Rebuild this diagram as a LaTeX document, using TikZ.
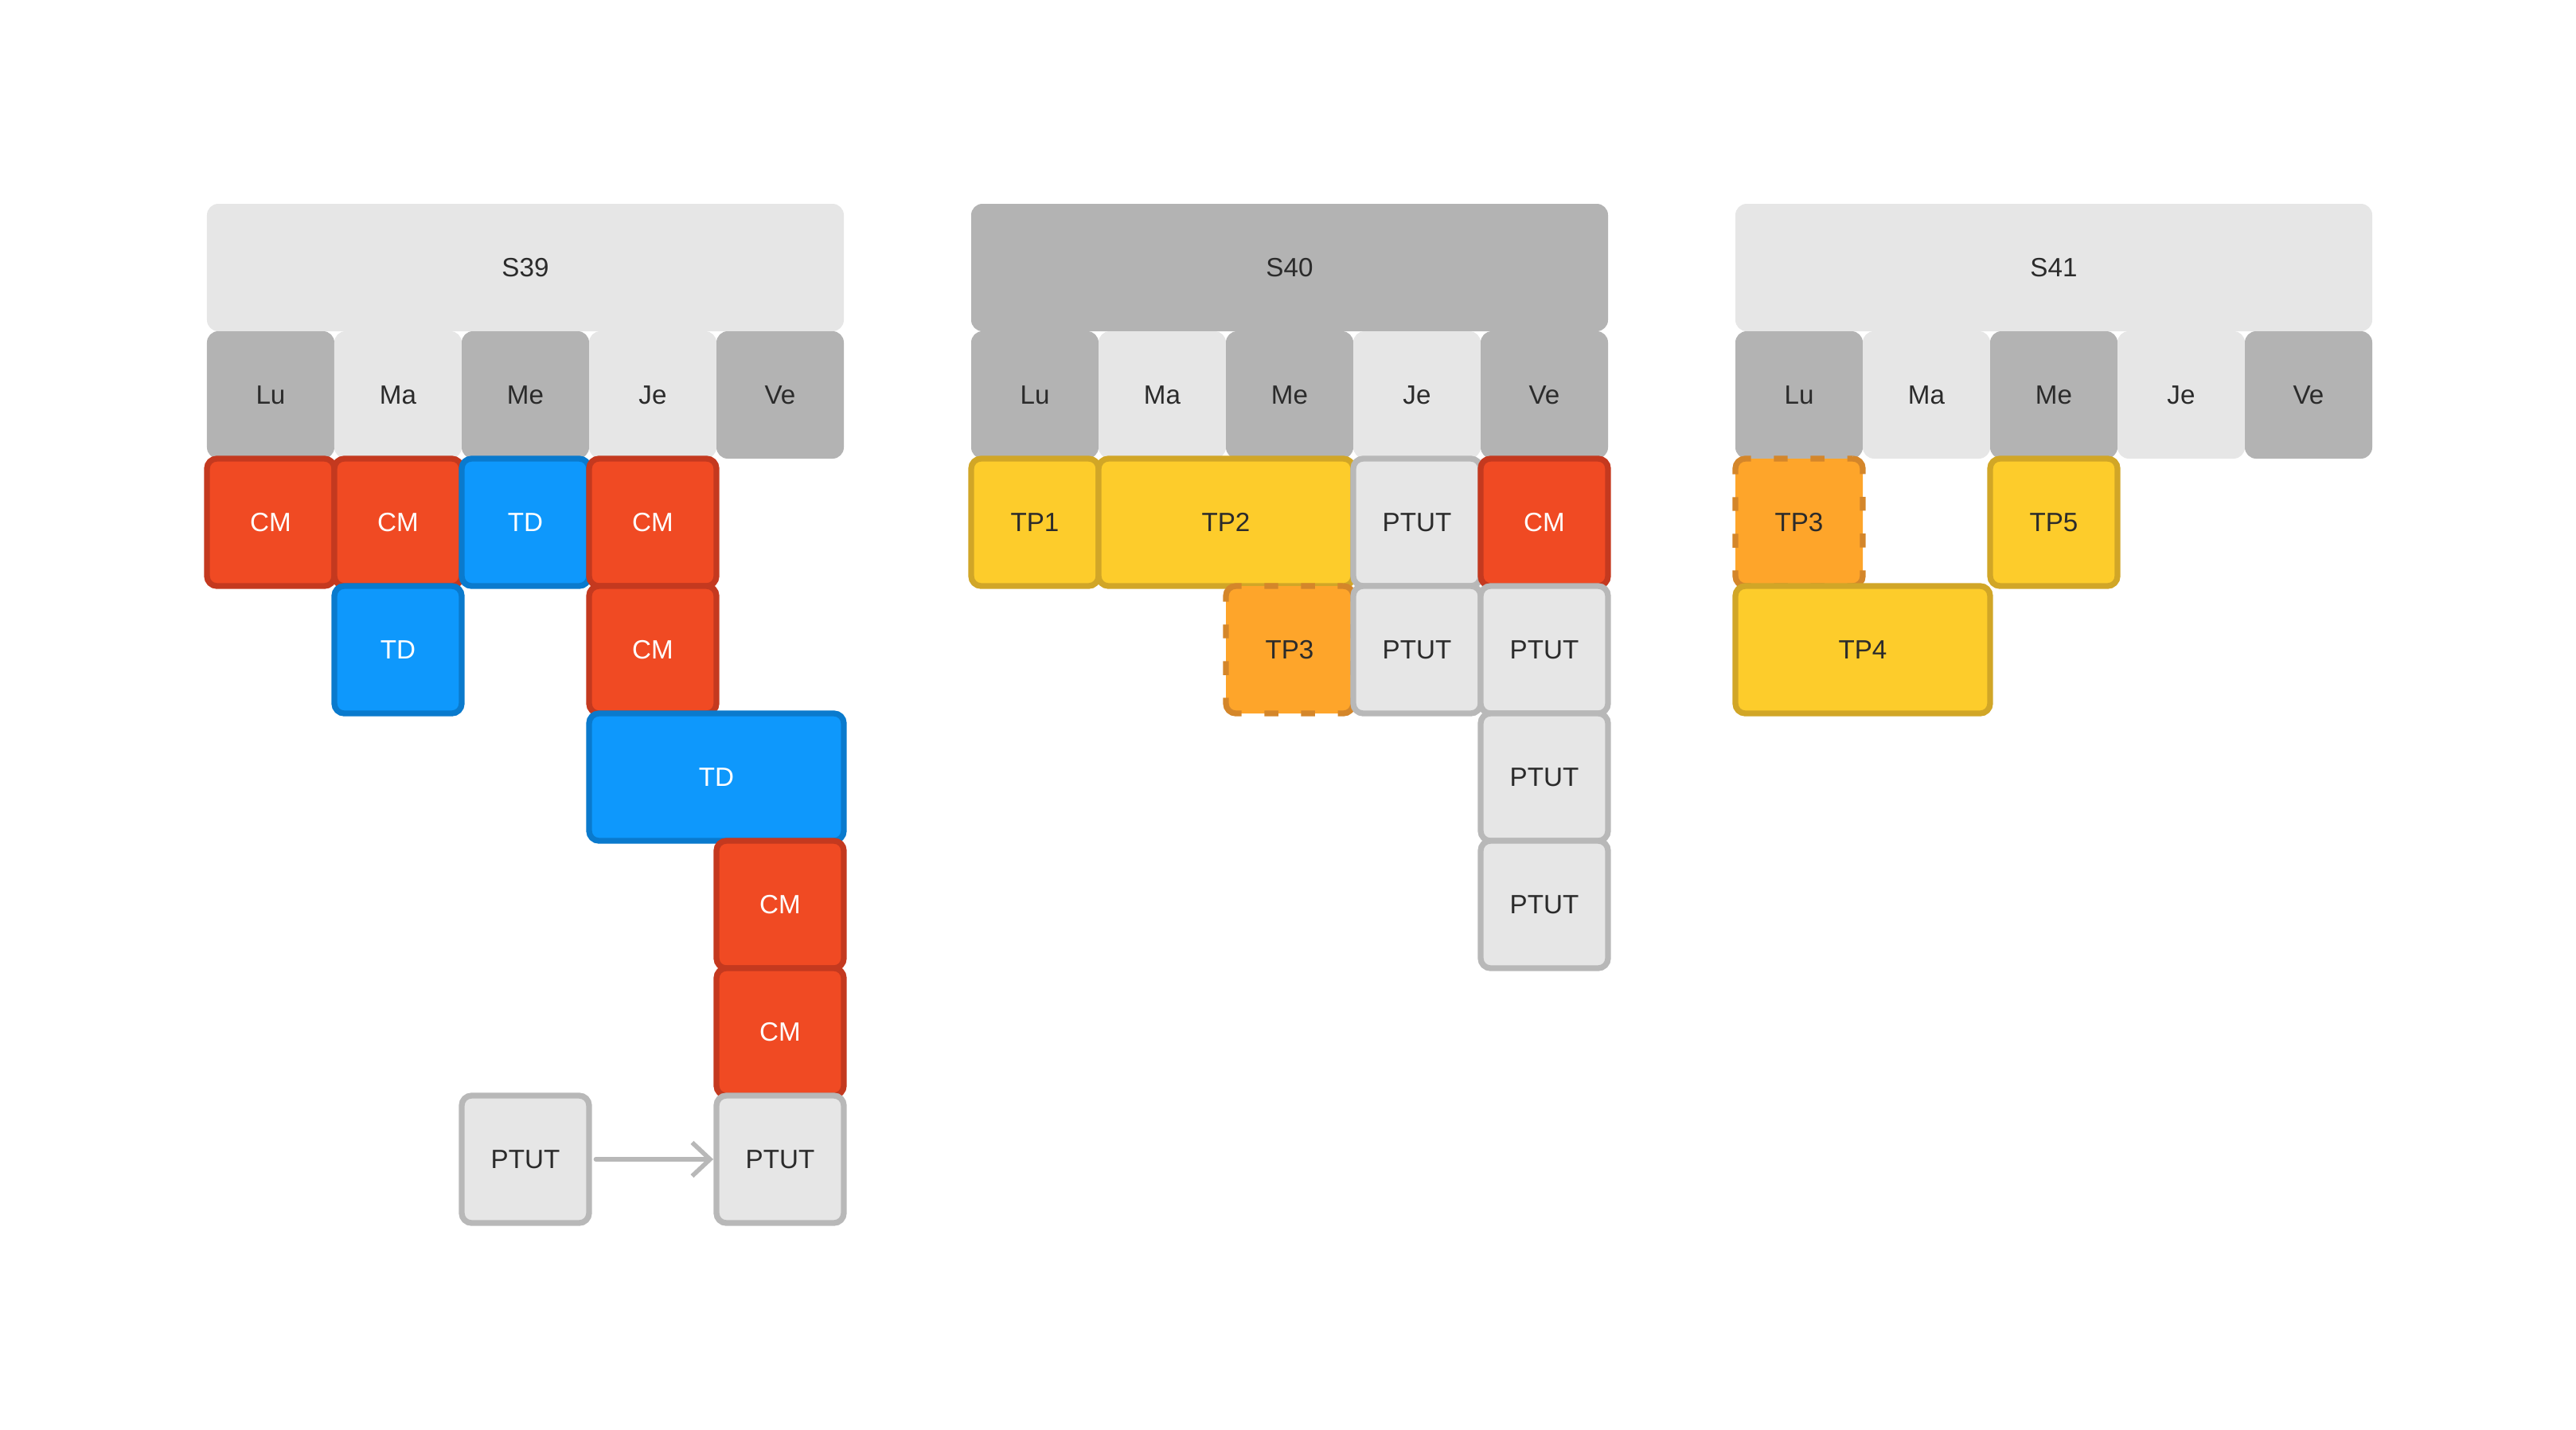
\documentclass[tikz,border=0pt]{standalone}
\usepackage{fontspec}
\setmainfont{Liberation Sans}
\usepackage{xcolor}
\usetikzlibrary{arrows.meta,positioning}

\definecolor{cmfill}{HTML}{F04A23}
\definecolor{cmline}{HTML}{C4391F}
\definecolor{tdfill}{HTML}{0E98FC}
\definecolor{tdline}{HTML}{0A7ACD}
\definecolor{tpfill}{HTML}{FDCC2B}
\definecolor{tpline}{HTML}{D1A627}
\definecolor{optfill}{HTML}{FEA52A}
\definecolor{optline}{HTML}{D4862A}
\definecolor{ptfill}{HTML}{E6E6E6}
\definecolor{ptline}{HTML}{B8B8B8}
\definecolor{hdlight}{HTML}{E6E6E6}
\definecolor{hddark}{HTML}{B3B3B3}
\definecolor{txt}{HTML}{2B2B2B}

\begin{document}
\begin{tikzpicture}[
  every node/.style={font=\fontsize{5.9}{7}\selectfont,inner sep=0pt,outer sep=0pt},
  cell/.style={minimum width=1cm,minimum height=1cm,rounded corners=2.5pt,text=txt},
  wide/.style={minimum width=2cm},
  hdl/.style={cell,fill=hdlight},
  hdd/.style={cell,fill=hddark},
  event/.style={cell,draw,line width=1.3pt,rounded corners=2.2pt},
  cmbox/.style={event,fill=cmfill,draw=cmline,text=white},
  tdbox/.style={event,fill=tdfill,draw=tdline,text=white},
  tpbox/.style={event,fill=tpfill,draw=tpline},
  optbox/.style={event,fill=optfill,draw=optline,
    dash pattern=on 6pt off 5.1pt on 3.1pt off 5.1pt on 3.1pt off 5.1pt,dash phase=4.73pt},
  ptbox/.style={event,fill=ptfill,draw=ptline},
  arrow/.style={-{Straight Barb[length=4pt,width=7.5pt]},line width=1pt,draw=ptline,line cap=round,shorten <=1.5pt,shorten >=0.7pt}
]
\useasboundingbox (-1.625,1.6) rectangle (18.6,-9.625);

% weeks and days
\foreach \wk/\xo/\hs in {S39/0/hdl,S40/6/hdd,S41/12/hdl}{
  \node[\hs,minimum width=5cm] (\wk) at (\xo+2.5,-0.5) {\wk};
  \foreach \d/\ds [count=\i from 0] in {Lu/hdd,Ma/hdl,Me/hdd,Je/hdl,Ve/hdd}
    \node[\ds] (\wk-\d) at (\xo+\i+0.5,-1.5) {\d};
}

% S39
\node[cmbox] (s39-lu1) at (0.5,-2.5) {CM};
\node[cmbox] (s39-ma1) at (1.5,-2.5) {CM};
\node[tdbox] (s39-me1) at (2.5,-2.5) {TD};
\node[cmbox] (s39-je1) at (3.5,-2.5) {CM};
\node[tdbox] (s39-ma2) at (1.5,-3.5) {TD};
\node[cmbox] (s39-je2) at (3.5,-3.5) {CM};
\node[tdbox,wide] (s39-je3) at (4,-4.5) {TD};
\node[cmbox] (s39-ve4) at (4.5,-5.5) {CM};
\node[cmbox] (s39-ve5) at (4.5,-6.5) {CM};
\node[ptbox] (s39-me6) at (2.5,-7.5) {PTUT};
\node[ptbox] (s39-ve6) at (4.5,-7.5) {PTUT};
\draw[arrow] (s39-me6) -- (s39-ve6);

% S40
\begin{scope}[xshift=6cm]
\node[tpbox] (s40-lu1) at (0.5,-2.5) {TP1};
\node[tpbox,wide] (s40-ma1) at (2,-2.5) {TP2};
\node[optbox] (s40-me2) at (2.5,-3.5) {TP3};
\node[ptbox] (s40-je1) at (3.5,-2.5) {PTUT};
\node[ptbox] (s40-je2) at (3.5,-3.5) {PTUT};
\node[cmbox] (s40-ve1) at (4.5,-2.5) {CM};
\node[ptbox] (s40-ve2) at (4.5,-3.5) {PTUT};
\node[ptbox] (s40-ve3) at (4.5,-4.5) {PTUT};
\node[ptbox] (s40-ve4) at (4.5,-5.5) {PTUT};
\end{scope}

% S41
\begin{scope}[xshift=12cm]
\node[optbox] (s41-lu1) at (0.5,-2.5) {TP3};
\node[tpbox,wide] (s41-lu2) at (1,-3.5) {TP4};
\node[tpbox] (s41-me1) at (2.5,-2.5) {TP5};
\end{scope}
\end{tikzpicture}
\end{document}
